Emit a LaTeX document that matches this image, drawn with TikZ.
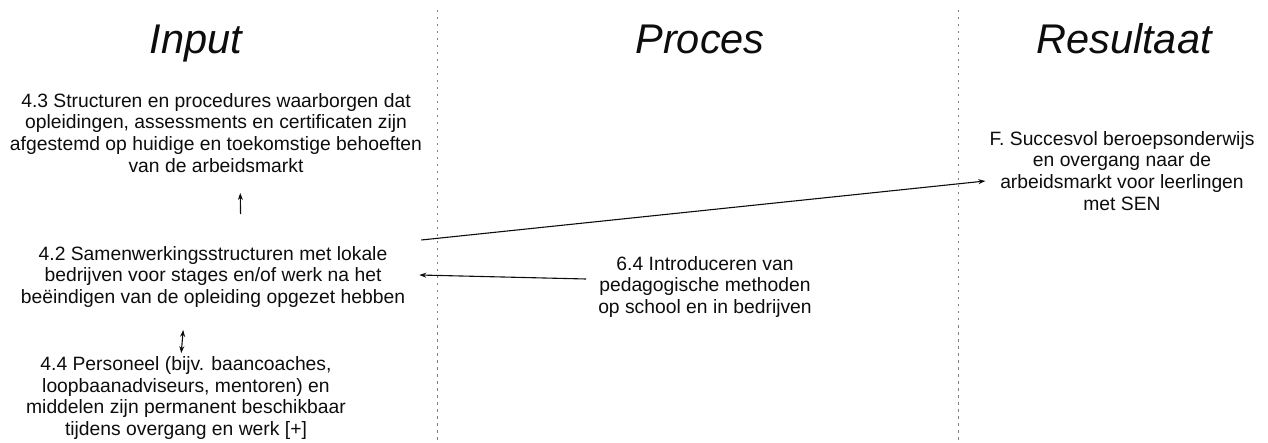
\documentclass[tikz,border=0pt]{standalone}
\usepackage{fontspec}
\setmainfont{Liberation Sans}
\usepackage{xcolor}
\definecolor{sepGray}{gray}{0.5}
\definecolor{inkBlack}{gray}{0.05}
\usepackage{tikz}
\usetikzlibrary{arrows.meta}

\begin{document}
\begin{tikzpicture}[>={Stealth[length=7pt,width=5pt]}, x=1pt, y=-1pt,
  txt/.style={align=center, inner sep=0pt, text=inkBlack,
    font=\fontsize{19.3}{21.8}\selectfont},
  ttl/.style={anchor=base, inner sep=0pt, text=inkBlack,
    font=\fontsize{41.5}{46}\selectfont\itshape},
  link/.style={->, line width=1.1pt, inkBlack},
  sep/.style={sepGray, line width=0.9pt, dash pattern=on 2.5pt off 4.5pt}]
  \clip (0,0) rectangle (1268,443);
  % column separators
  \draw[sep] (437,10) -- (437,443);
  \draw[sep] (958,10) -- (958,443);
  % column heads
  \node[ttl] (tin) at (196,54) {Input};
  \node[ttl] (tpr) at (700,54) {Proces};
  \node[ttl] (tre) at (1124,54) {Resultaat};
  % input column
  \node[txt] (s43) at (216,133)
    {4.3 Structuren en procedures waarborgen dat\\ opleidingen, assessments en certificaten zijn\\
     afgestemd op huidige en toekomstige behoeften\\ van de arbeidsmarkt};
  \node[txt] (s42) at (213,277)
    {4.2 Samenwerkingsstructuren met lokale\\ bedrijven voor stages en/of werk na het\\
     beëindigen van de opleiding opgezet hebben};
  \node[txt] (s44) at (186,398)
    {4.4 Personeel (bijv. baancoaches,\\ loopbaanadviseurs, mentoren) en\\
     middelen zijn permanent beschikbaar\\ tijdens overgang en werk [+]};
  % proces column
  \node[txt] (s64) at (705,287)
    {6.4 Introduceren van\\ pedagogische methoden\\ op school en in bedrijven};
  % resultaat column
  \node[txt] (fs) at (1122,171)
    {F. Succesvol beroepsonderwijs\\ en overgang naar de\\
     arbeidsmarkt voor leerlingen\\ met SEN};
  % links
  \draw[link, shorten <=32pt, shorten >=20pt] ([xshift=28pt]s42.north) -- ([xshift=24pt]s43.south);
  \draw[link, <->, shorten <=22pt, shorten >=3pt] ([xshift=-28pt]s42.south) -- ([xshift=-5pt]s44.north);
  \draw[link] ([xshift=16pt,yshift=6pt]s42.north east) -- ([xshift=-4pt,yshift=-10pt]fs.west);
  \draw[link] ([xshift=-12pt,yshift=8pt]s64.west) -- ([xshift=14pt,yshift=2pt]s42.east);
\end{tikzpicture}
\end{document}
